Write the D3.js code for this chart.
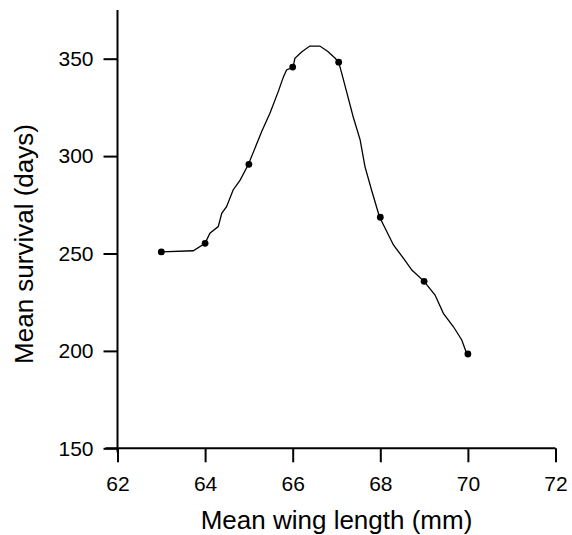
<!DOCTYPE html>
<html>
<head>
<meta charset="utf-8">
<script src="https://cdn.jsdelivr.net/npm/d3@7"></script>
<style>
  body { margin: 0; background: #fff; }
  svg { display: block; font-family: "Liberation Sans", Arial, sans-serif; }
</style>
</head>
<body>
<div id="chart"></div>
<script>
// Observed means
const wingLength = [63, 64, 65, 66, 67.05, 68, 69, 70];
const survival   = [250.8, 255.2, 295.8, 345.7, 348.2, 268.6, 235.7, 198.4];

// Smoothed curve
const curveX = [63.0, 63.73, 64.0, 64.11, 64.30, 64.38, 64.49, 64.64, 64.80, 64.99,
  65.29, 65.48, 65.67, 65.79, 65.86, 66.01, 66.05, 66.21, 66.39, 66.62,
  66.81, 66.97, 67.05, 67.12, 67.23, 67.38, 67.54, 67.65, 67.80, 67.98,
  68.30, 68.53, 68.72, 69.0, 69.25, 69.44, 69.67, 69.86, 69.97, 70.0];
const curveY = [250.8, 251.4, 255.2, 260.4, 263.8, 270.6, 274.0, 282.6, 287.7, 295.8,
  312.5, 322.0, 333.1, 340.8, 344.2, 345.7, 350.2, 353.6, 356.5, 356.5,
  353.6, 350.2, 348.2, 342.5, 333.1, 320.2, 308.3, 294.6, 282.6, 268.9,
  254.4, 247.5, 241.5, 235.7, 228.7, 219.3, 212.4, 205.6, 198.8, 198.4];

const xTicks = [62, 64, 66, 68, 70, 72];
const yTicks = [150, 200, 250, 300, 350];

const width = 572, height = 535;

const x = d3.scaleLinear().domain([62, 72]).range([117.5, 555.5]);
const y = d3.scaleLinear().domain([150, 375]).range([448.3, 10]);

const svg = d3.select("#chart").append("svg")
  .attr("width", width)
  .attr("height", height);

// Axes
const xAxis = d3.axisBottom(x)
  .tickValues(xTicks)
  .tickSize(14)
  .tickPadding(14)
  .tickFormat(d3.format("d"));

svg.append("g")
  .attr("transform", `translate(0,${y(150)})`)
  .call(xAxis)
  .call(g => g.select(".domain").remove())
  .call(g => g.selectAll(".tick line").attr("stroke", "#000").attr("stroke-width", 2))
  .call(g => g.selectAll(".tick text")
    .attr("fill", "#000")
    .attr("font-size", 21)
    .attr("font-family", "Liberation Sans, Arial, sans-serif"));

const yAxis = d3.axisLeft(y)
  .tickValues(yTicks)
  .tickSize(14)
  .tickPadding(10)
  .tickFormat(d3.format("d"));

svg.append("g")
  .attr("transform", `translate(${x(62)},0)`)
  .call(yAxis)
  .call(g => g.select(".domain").remove())
  .call(g => g.selectAll(".tick line").attr("stroke", "#000").attr("stroke-width", 2))
  .call(g => g.selectAll(".tick text")
    .attr("fill", "#000")
    .attr("font-size", 21)
    .attr("font-family", "Liberation Sans, Arial, sans-serif"));

// Axis lines (slight overhang past the origin like the original)
svg.append("line")
  .attr("x1", x(62) - 12).attr("x2", x(72))
  .attr("y1", y(150)).attr("y2", y(150))
  .attr("stroke", "#000").attr("stroke-width", 2);

svg.append("line")
  .attr("x1", x(62)).attr("x2", x(62))
  .attr("y1", y(375)).attr("y2", y(150) + 4)
  .attr("stroke", "#000").attr("stroke-width", 2);

// Curve
const line = d3.line()
  .x(i => x(curveX[i]))
  .y(i => y(curveY[i]));

svg.append("path")
  .datum(d3.range(curveX.length))
  .attr("d", line)
  .attr("fill", "none")
  .attr("stroke", "#000")
  .attr("stroke-width", 1.3);

// Points
svg.append("g")
  .selectAll("circle")
  .data(d3.range(wingLength.length))
  .join("circle")
    .attr("cx", i => x(wingLength[i]))
    .attr("cy", i => y(survival[i]))
    .attr("r", 3.4)
    .attr("fill", "#000");

// Axis titles
svg.append("text")
  .attr("x", (x(62) + x(72)) / 2)
  .attr("y", 529)
  .attr("text-anchor", "middle")
  .attr("font-size", 26)
  .text("Mean wing length (mm)");

svg.append("text")
  .attr("transform", "translate(33,244) rotate(-90)")
  .attr("text-anchor", "middle")
  .attr("font-size", 26)
  .text("Mean survival (days)");
</script>
</body>
</html>
